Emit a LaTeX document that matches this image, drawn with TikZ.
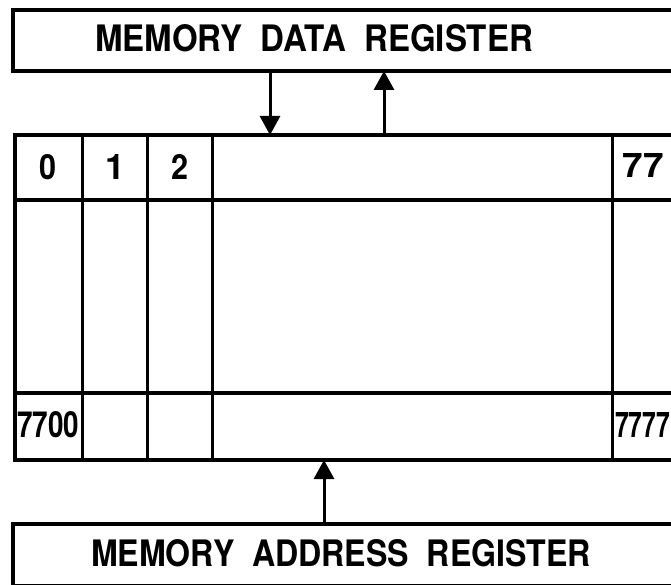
\documentclass[tikz,border=0pt]{standalone}
\usepackage{fontspec}
\setmainfont{TeX Gyre Heros}
\usetikzlibrary{arrows.meta}
\begin{document}
\begin{tikzpicture}[x=1pt,y=-1pt,
  frame/.style={draw, line width=3.5pt, rectangle, anchor=north west, inner sep=0pt, outer sep=0pt},
  gridline/.style={line width=3pt},
  heavyline/.style={line width=4pt},
  flow/.style={line width=3pt, -{Triangle[width=20pt,length=19pt]}},
  lbl/.style={inner sep=0pt, outer sep=0pt, anchor=south west},
  num/.style={inner sep=0pt, outer sep=0pt, anchor=south}]
\useasboundingbox (0,0) rectangle (671,585);
\clip (0,0) rectangle (671,585);
% registers and memory
\node[frame, minimum width=707pt, minimum height=61pt] (mdr) at (13,10) {};
\node[frame, line width=4pt, minimum width=705pt, minimum height=325pt] (mem) at (15,135) {};
\node[frame, minimum width=707pt, minimum height=62pt] (mar) at (13,524) {};
% grid of memory
\draw[heavyline] (mem.west |- 0,200) -- (mem.east |- 0,200);
\draw[heavyline] (mem.west |- 0,393) -- (mem.east |- 0,393);
\foreach \cx in {82,147,212,612}
  \draw[gridline] (\cx,0 |- mem.north) -- (\cx,0 |- mem.south);
% labels
\node[lbl] (mdrt) at (95,52) {\resizebox{438pt}{27pt}{\bfseries MEMORY\hspace{.55em}DATA\hspace{.55em}REGISTER}};
\node[lbl] (mart) at (91,567) {\resizebox{500pt}{27pt}{\bfseries MEMORY\hspace{.55em}ADDRESS\hspace{.55em}REGISTER}};
\node[num] (c0) at (48,180) {\resizebox{17pt}{25pt}{\bfseries 0}};
\node[num] (c1) at (115,180) {\resizebox{!}{25pt}{\bfseries 1}};
\node[num] (c2) at (180,180) {\resizebox{17pt}{25pt}{\bfseries 2}};
\node[num] (c77) at (643,178) {\resizebox{41pt}{24pt}{\bfseries 77}};
\node[lbl] (r7700) at (17,438) {\resizebox{62pt}{26pt}{\bfseries 7700}};
\node[lbl] (r7777) at (615,437) {\resizebox{55pt}{25pt}{\bfseries 7777}};
% connectors
\coordinate (xin) at (270,0);
\coordinate (xout) at (384,0);
\coordinate (xadr) at (324,0);
\draw[flow] (xin |- mdr.south) -- (xin |- mem.north);
\draw[flow] (xout |- mem.north) -- (xout |- mdr.south);
\draw[flow] (xadr |- mar.north) -- (xadr |- mem.south);
\end{tikzpicture}
\end{document}
